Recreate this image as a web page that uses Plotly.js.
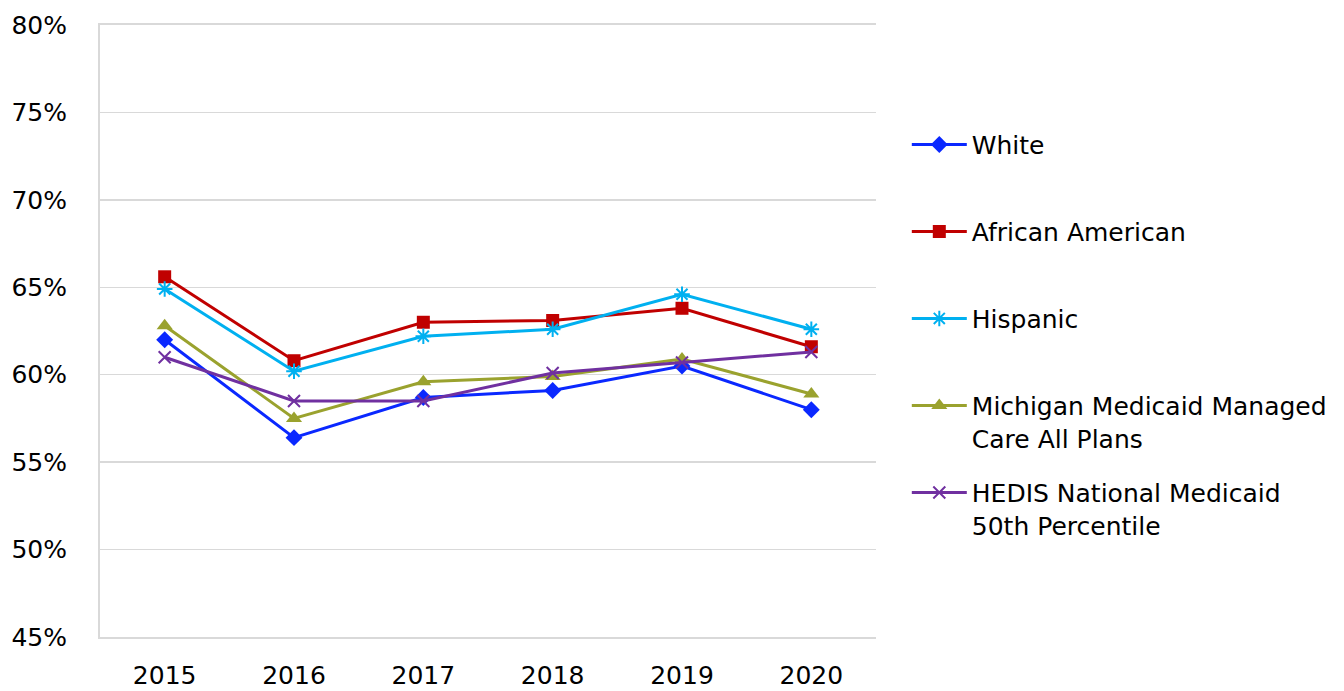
<!DOCTYPE html>
<html>
<head>
<meta charset="utf-8">
<script src="https://cdn.plot.ly/plotly-3.0.1.min.js"></script>
<style>html,body{margin:0;padding:0;background:#fff;}#chart{width:1344px;height:691px;}</style>
</head>
<body>
<div id="chart"></div>
<script>
const years = ["2015", "2016", "2017", "2018", "2019", "2020"];
const white = [0.620, 0.564, 0.587, 0.591, 0.605, 0.580];
const africanAmerican = [0.656, 0.608, 0.630, 0.631, 0.638, 0.616];
const hispanic = [0.649, 0.602, 0.622, 0.626, 0.646, 0.626];
const michiganAll = [0.628, 0.575, 0.596, 0.599, 0.609, 0.589];
const hedis50 = [0.610, 0.585, 0.585, 0.601, 0.607, 0.613];
const seriesNames = ["White", "African American", "Hispanic", "Michigan Medicaid Managed<br>Care All Plans", "HEDIS National Medicaid<br>50th Percentile"];
const yTicks = [0.45, 0.50, 0.55, 0.60, 0.65, 0.70, 0.75, 0.80];

const styles = [
  {color: "#0A28FF", symbol: "diamond", size: 13},
  {color: "#C00000", symbol: "square", size: 13},
  {color: "#00B0F0", symbol: "asterisk-open", size: 13},
  {color: "#9AA22E", symbol: "triangle-up", size: 14},
  {color: "#7030A0", symbol: "x-thin-open", size: 12}
];
const seriesData = [white, africanAmerican, hispanic, michiganAll, hedis50];

const traces = seriesData.map((vals, i) => {
  const st = styles[i];
  const twoLine = seriesNames[i].indexOf("<br>") >= 0;
  return {
    x: years, y: vals, type: "scatter", mode: "lines+markers",
    name: twoLine ? seriesNames[i] : seriesNames[i] + "<br> ",
    legendgroup: "g" + i,
    line: {color: st.color, width: 3},
    marker: {symbol: st.symbol, size: st.size, color: st.color,
             line: {color: st.color, width: (st.symbol.indexOf("open") >= 0 ? 2 : 0)}},
    hoverinfo: "x+y"
  };
});

const layout = {
  width: 1344, height: 691,
  margin: {l: 100, r: 468, t: 25, b: 54, autoexpand: false},
  paper_bgcolor: "#ffffff", plot_bgcolor: "#ffffff",
  font: {family: "DejaVu Sans, Verdana, sans-serif", size: 25, color: "#000000"},
  xaxis: {
    type: "category", range: [-0.5, 5.5], showgrid: false, zeroline: false,
    showline: true, mirror: true, linecolor: "#D9D9D9", linewidth: 2,
    ticks: "", ticklabelstandoff: 15,
    tickfont: {size: 25, color: "#000"}
  },
  yaxis: {
    range: [0.45, 0.80], tickvals: yTicks, tickformat: ".0%",
    showgrid: true, gridcolor: "#D9D9D9", gridwidth: 1.5,
    zeroline: false, showline: true, linecolor: "#D9D9D9", linewidth: 2,
    ticks: "", ticklabelstandoff: 26, tickfont: {size: 25, color: "#000"}
  },
  showlegend: true,
  legend: {
    x: 1.0397, y: 0.842, xanchor: "left", yanchor: "top",
    traceorder: "grouped", tracegroupgap: 19, valign: "top",
    itemwidth: 55, borderwidth: 0, bgcolor: "rgba(0,0,0,0)",
    font: {size: 25, color: "#000"}
  }
};

Plotly.newPlot("chart", traces, layout, {displayModeBar: false, staticPlot: true});
</script>
</body>
</html>
